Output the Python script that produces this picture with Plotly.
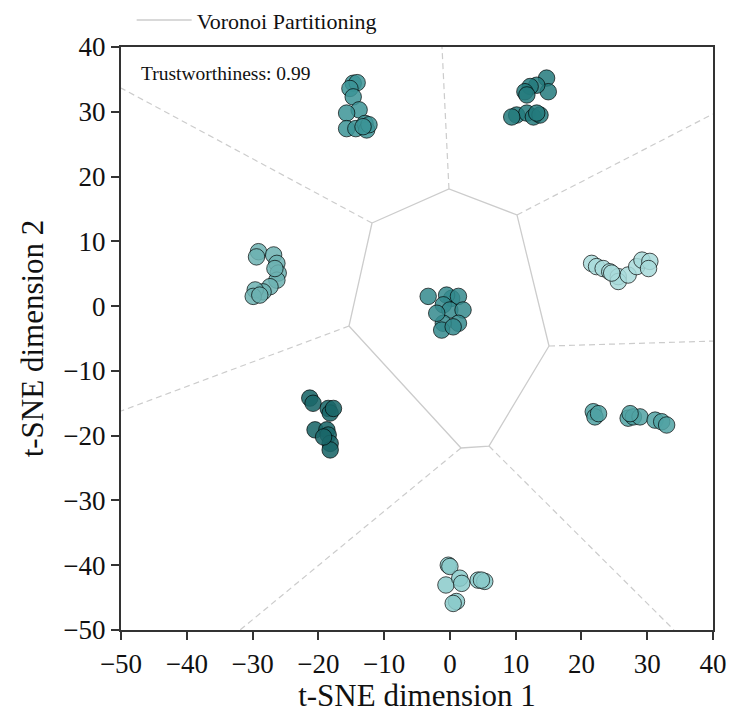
import plotly.graph_objects as go

# ---- data ----
clusters = {
    "c1": {"x": [-14.7, -14.1, -15.2, -14.7, -13.8, -15.7, -15.7, -14.3, -12.9, -12.65, -12.3, -13.2],
           "y": [34.4, 34.5, 33.6, 32.3, 30.3, 29.8, 27.4, 27.4, 28.2, 27.2, 28.0, 27.7],
           "color": "rgba(60,148,150,0.85)"},
    "c2": {"x": [14.7, 14.96, 13.2, 12.2, 11.4, 11.7, 10.15, 11.7, 12.7, 13.7, 9.4, 13.2],
           "y": [35.2, 33.1, 34.1, 33.9, 33.1, 32.6, 29.5, 29.8, 29.2, 29.5, 29.2, 29.8],
           "color": "rgba(35,122,125,0.85)"},
    "c3": {"x": [-29.1, -29.4, -26.8, -26.3, -26.1, -26.3, -27.35, -28.4, -29.6, -29.9, -28.9, -26.6],
           "y": [8.4, 7.6, 7.9, 6.6, 5.1, 4.0, 3.0, 2.2, 2.5, 1.5, 1.7, 5.8],
           "color": "rgba(108,178,178,0.85)"},
    "c4": {"x": [-3.3, 0.27, -0.5, 1.3, -1.0, 0.0, 2.0, 1.3, -1.0, -1.25, 0.5, -2.0],
           "y": [1.5, 1.2, 1.7, 1.5, 0.2, -0.6, -0.6, -2.65, -2.65, -3.7, -3.2, -1.1],
           "color": "rgba(52,138,141,0.85)"},
    "c5": {"x": [21.55, 22.3, 23.3, 24.3, 25.6, 25.6, 27.1, 28.4, 29.2, 30.4, 30.2, 24.6],
           "y": [6.6, 6.1, 5.8, 5.3, 4.55, 3.8, 4.8, 6.1, 7.1, 6.9, 5.8, 5.1],
           "color": "rgba(168,218,218,0.85)"},
    "c6": {"x": [-21.3, -20.8, -18.5, -18.2, -17.7, -20.5, -18.7, -18.5, -18.2, -18.2, -19.2],
           "y": [-14.2, -15.0, -15.8, -16.5, -15.8, -19.1, -19.1, -19.9, -21.2, -22.2, -20.2],
           "color": "rgba(26,102,105,0.88)"},
    "c7": {"x": [21.8, 22.05, 22.6, 27.1, 27.9, 28.9, 27.4, 31.2, 32.2, 32.95],
           "y": [-16.3, -17.1, -16.6, -17.3, -17.1, -17.1, -16.6, -17.6, -17.85, -18.35],
           "color": "rgba(80,162,163,0.85)"},
    "c8": {"x": [-0.24, 0.0, -0.6, 1.5, 1.8, 1.0, 0.5, 4.3, 5.3, 4.8],
           "y": [-40.0, -40.2, -43.05, -42.0, -42.8, -45.6, -45.9, -42.3, -42.5, -42.3],
           "color": "rgba(138,202,202,0.85)"},
}

# Voronoi finite cell (closed polygon)
poly_x = [-11.84, -0.14, 10.2, 15.07, 5.94, 1.69, -15.34, -11.84]
poly_y = [12.83, 18.08, 14.07, -6.16, -21.6, -21.9, -3.07, 12.83]
# Voronoi infinite ridges: start vertex -> point on frame
ray_x0 = [-11.84, -0.14, 10.2, 15.07, 5.94, 1.69, -15.34]
ray_y0 = [12.83, 18.08, 14.07, -6.16, -21.6, -21.9, -3.07]
ray_x1 = [-50.0, -1.2, 40.0, 40.0, 34.07, -31.9, -50.0]
ray_y1 = [33.67, 40.0, 29.66, -5.4, -50.0, -50.0, -16.2]

x_ticks = [-50, -40, -30, -20, -10, 0, 10, 20, 30, 40]
y_ticks = [-50, -40, -30, -20, -10, 0, 10, 20, 30, 40]
x_tick_text = [str(v).replace("-", "\u2212") for v in x_ticks]
y_tick_text = [str(v).replace("-", "\u2212") for v in y_ticks]

FONT = "Liberation Serif"
GRID = "#cccccc"

fig = go.Figure()

# dashed rays
rx, ry = [], []
for a, b, c, d in zip(ray_x0, ray_y0, ray_x1, ray_y1):
    rx += [a, c, None]
    ry += [b, d, None]
fig.add_trace(go.Scatter(x=rx, y=ry, mode="lines", showlegend=False,
                         line=dict(color=GRID, width=1.2, dash="6px,4px"), hoverinfo="skip"))
# solid polygon
fig.add_trace(go.Scatter(x=poly_x, y=poly_y, mode="lines", name="Voronoi Partitioning",
                         line=dict(color=GRID, width=1.3), hoverinfo="skip"))

for name, c in clusters.items():
    fig.add_trace(go.Scatter(x=c["x"], y=c["y"], mode="markers", showlegend=False, name=name,
                             marker=dict(size=16.5, color=c["color"],
                                         line=dict(color="rgba(0,0,0,0.85)", width=0.8))))

axis_common = dict(
    showline=True, linewidth=2.2, linecolor="#333333", mirror=True,
    ticks="outside", ticklen=8, tickwidth=2, tickcolor="#333333",
    showgrid=False, zeroline=False,
    tickfont=dict(family=FONT, size=27, color="#111111"),
)

fig.update_xaxes(range=[-50, 40], tickvals=x_ticks, ticktext=x_tick_text,
                 title=dict(text="t-SNE dimension 1",
                            font=dict(family=FONT, size=31, color="#111111"), standoff=6),
                 **axis_common)
fig.update_yaxes(range=[-50, 40], tickvals=y_ticks, ticktext=y_tick_text,
                 title=dict(text="t-SNE dimension 2",
                            font=dict(family=FONT, size=31, color="#111111"), standoff=10),
                 **axis_common)

fig.add_annotation(text="Trustworthiness: 0.99", xref="paper", yref="paper",
                   x=0.03, y=0.954, xanchor="left", yanchor="middle", showarrow=False,
                   font=dict(family=FONT, size=19.5, color="#111111"))

# page body adds an 8px offset, so the figure is sized/margined to compensate
fig.update_layout(
    width=727, height=712,
    margin=dict(l=113, r=22, t=39, b=90, autoexpand=False),
    paper_bgcolor="white", plot_bgcolor="white",
    font=dict(family=FONT, color="#111111"),
    legend=dict(x=0.018, y=1.046, xanchor="left", yanchor="middle",
                font=dict(family=FONT, size=22, color="#111111"),
                bgcolor="rgba(0,0,0,0)", itemwidth=55, borderwidth=0),
)

fig.write_html("out.html")
